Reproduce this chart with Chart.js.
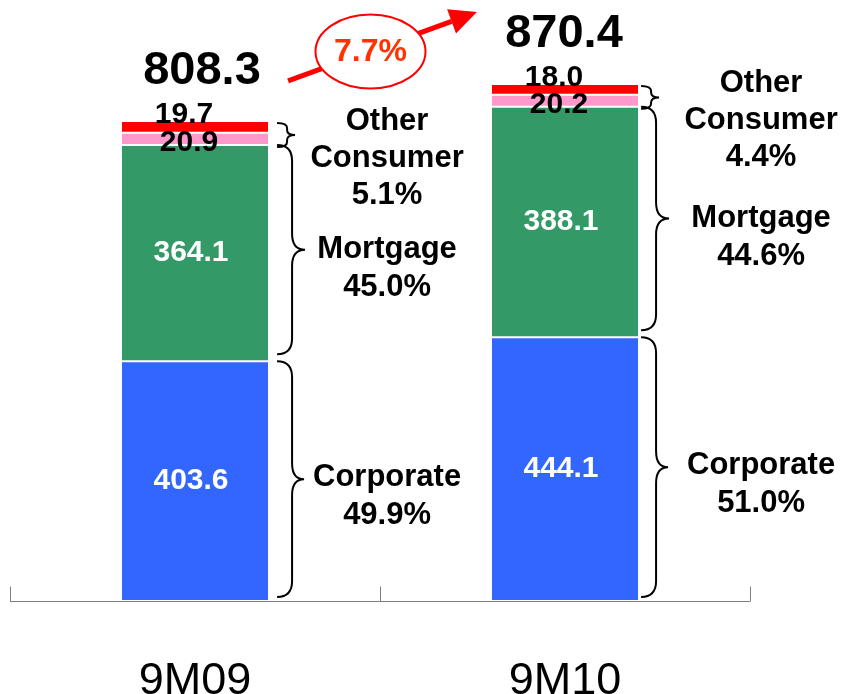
<!DOCTYPE html>
<html><head><meta charset="utf-8">
<script src="https://cdn.jsdelivr.net/npm/chart.js@4"></script>
<style>html,body{margin:0;padding:0;background:#fff}#wrap{width:843px;height:694px;position:relative}</style>
</head><body><div id="wrap"><canvas id="c"></canvas></div>
<script>
const categories = ['9M09', '9M10'];
const corporate = [403.6, 444.1];
const mortgage = [364.1, 388.1];
const consumer = [20.9, 20.2];
const other = [19.7, 18.0];
const totals = [808.3, 870.4];
const growthLabel = '7.7%';
const otherShare = ['5.1%', '4.4%'];
const mortgageShare = ['45.0%', '44.6%'];
const corporateShare = ['49.9%', '51.0%'];

const F = "'Liberation Sans', Arial, Helvetica, sans-serif";

const annot = {
  id: 'annot',
  afterDatasetsDraw(chart) {
    const ctx = chart.ctx;
    const xs = chart.scales.x, ys = chart.scales.y;
    const meta = i => chart.getDatasetMeta(i).data;
    ctx.save();

    // axis line with inner ticks at category boundaries
    const ay = Math.round(ys.getPixelForValue(0)) + 0.5;
    const mid = (xs.getPixelForTick(0) + xs.getPixelForTick(1)) / 2;
    ctx.strokeStyle = '#7f7f7f'; ctx.lineWidth = 1;
    ctx.beginPath();
    ctx.moveTo(xs.left, ay); ctx.lineTo(xs.right, ay);
    [xs.left, mid, xs.right].forEach(x => {
      const px = Math.round(x) + 0.5;
      ctx.moveTo(px, ay); ctx.lineTo(px, ay - 15);
    });
    ctx.stroke();

    ctx.textAlign = 'center'; ctx.textBaseline = 'middle';

    const valueSets = [corporate, mortgage, consumer, other];
    // segment labels
    for (let j = 0; j < categories.length; j++) {
      const b = meta(0)[j], g = meta(1)[j], p = meta(2)[j], r = meta(3)[j];
      ctx.font = 'bold 30px ' + F;
      ctx.fillStyle = '#fff';
      ctx.fillText(valueSets[0][j].toFixed(1), b.x - 4, (b.y + b.base) / 2);
      ctx.fillText(valueSets[1][j].toFixed(1), g.x - 4, (g.y + g.base) / 2);
      ctx.fillStyle = '#000';
      ctx.fillText(valueSets[2][j].toFixed(1), p.x - 6, (p.y + p.base) / 2 + 4);
      ctx.fillText(valueSets[3][j].toFixed(1), r.x - 11, (r.y + r.base) / 2 - 12);
      // totals
      ctx.font = 'bold 47px ' + F;
      ctx.fillText(totals[j].toFixed(1), r.x + [7, -1][j], r.y - 50);
    }

    // braces
    function brace(x0, y1, y2, w1, w2, rr) {
      const sx = x0 + w1, tx = x0 + w2, ym = (y1 + y2) / 2;
      ctx.beginPath();
      ctx.moveTo(x0, y1);
      ctx.quadraticCurveTo(sx, y1, sx, y1 + rr);
      ctx.lineTo(sx, ym - rr);
      ctx.quadraticCurveTo(sx, ym, tx, ym);
      ctx.quadraticCurveTo(sx, ym, sx, ym + rr);
      ctx.lineTo(sx, y2 - rr);
      ctx.quadraticCurveTo(sx, y2, x0, y2);
      ctx.stroke();
      return ym;
    }
    ctx.strokeStyle = '#000'; ctx.lineWidth = 2;
    for (let j = 0; j < categories.length; j++) {
      const b = meta(0)[j], g = meta(1)[j], p = meta(2)[j], r = meta(3)[j];
      const R = b.x + b.width / 2;
      const x0 = R + [9, 3][j];
      const tx = R + [119, 123][j];
      ctx.fillStyle = '#000';
      ctx.font = 'bold 31px ' + F;
      // other consumer
      const ym1 = brace(x0, r.y + 2, p.base + 2, 10, 18, 5);
      ['Other', 'Consumer', otherShare[j]].forEach((t, k) => ctx.fillText(t, tx, ym1 - 14 + k * 37));
      // mortgage
      const ym2 = brace(x0, g.y, g.base - 7, 15, 28, 16);
      ['Mortgage', mortgageShare[j]].forEach((t, k) => ctx.fillText(t, tx, ym2 + k * 38));
      // corporate
      const ym3 = brace(x0, b.y, b.base - 4, 15, 27, 16);
      ['Corporate', corporateShare[j]].forEach((t, k) => ctx.fillText(t, tx, ym3 - 2 + k * 38));
    }

    // growth arrow
    const t1 = meta(3)[0], t2 = meta(3)[1];
    const sx = t1.x + t1.width / 2 + 20, sy = t1.y - 40;
    const ex = t2.x - t2.width / 2 - 15, ey = t2.y - 72;
    const a = Math.atan2(ey - sy, ex - sx);
    const hl = 27, hw = 13;
    const bx = ex - hl * Math.cos(a), by = ey - hl * Math.sin(a);
    ctx.strokeStyle = '#ff0000'; ctx.fillStyle = '#ff0000';
    ctx.lineWidth = 5;
    ctx.beginPath(); ctx.moveTo(sx, sy); ctx.lineTo(bx, by); ctx.stroke();
    ctx.beginPath();
    ctx.moveTo(ex, ey);
    ctx.lineTo(bx + hw * Math.sin(a), by - hw * Math.cos(a));
    ctx.lineTo(bx - hw * Math.sin(a), by + hw * Math.cos(a));
    ctx.closePath(); ctx.fill();
    // ellipse
    const cx = (sx + ex) / 2 - 12, cy = (sy + ey) / 2 + 5;
    ctx.beginPath();
    ctx.ellipse(cx, cy, 55, 37, 0, 0, Math.PI * 2);
    ctx.fillStyle = '#fff'; ctx.fill();
    ctx.lineWidth = 2; ctx.strokeStyle = '#ff0000'; ctx.stroke();
    ctx.fillStyle = '#ff3300';
    ctx.font = 'bold 32px ' + F;
    ctx.fillText(growthLabel, cx, cy + 1);

    ctx.restore();
  }
};

const segBorder = { top: 1, bottom: 1, left: 0, right: 0 };
const mk = (label, data, color) => ({
  label, data, backgroundColor: color, borderColor: '#ffffff',
  borderWidth: segBorder, borderSkipped: false,
  barPercentage: 0.395, categoryPercentage: 1.0
});

new Chart(document.getElementById('c'), {
  type: 'bar',
  data: {
    labels: categories,
    datasets: [
      mk('Corporate', corporate, '#3366ff'),
      mk('Mortgage', mortgage, '#339966'),
      mk('Consumer', consumer, '#ff99cc'),
      mk('Other', other, '#ff0000')
    ]
  },
  options: {
    responsive: true, maintainAspectRatio: false, animation: false, devicePixelRatio: 1,
    layout: { padding: { left: 10, right: 93, top: 0, bottom: 0 } },
    plugins: { legend: { display: false }, tooltip: { enabled: false } },
    scales: {
      x: {
        stacked: true,
        grid: { display: false }, border: { display: false },
        ticks: { color: '#000', font: { family: F, size: 45 }, padding: 46, maxRotation: 0, autoSkip: false },
        afterFit: s => { s.height = 93; }
      },
      y: { stacked: true, display: false, min: 0, max: 1012 }
    }
  },
  plugins: [annot]
});
</script>
</body></html>
